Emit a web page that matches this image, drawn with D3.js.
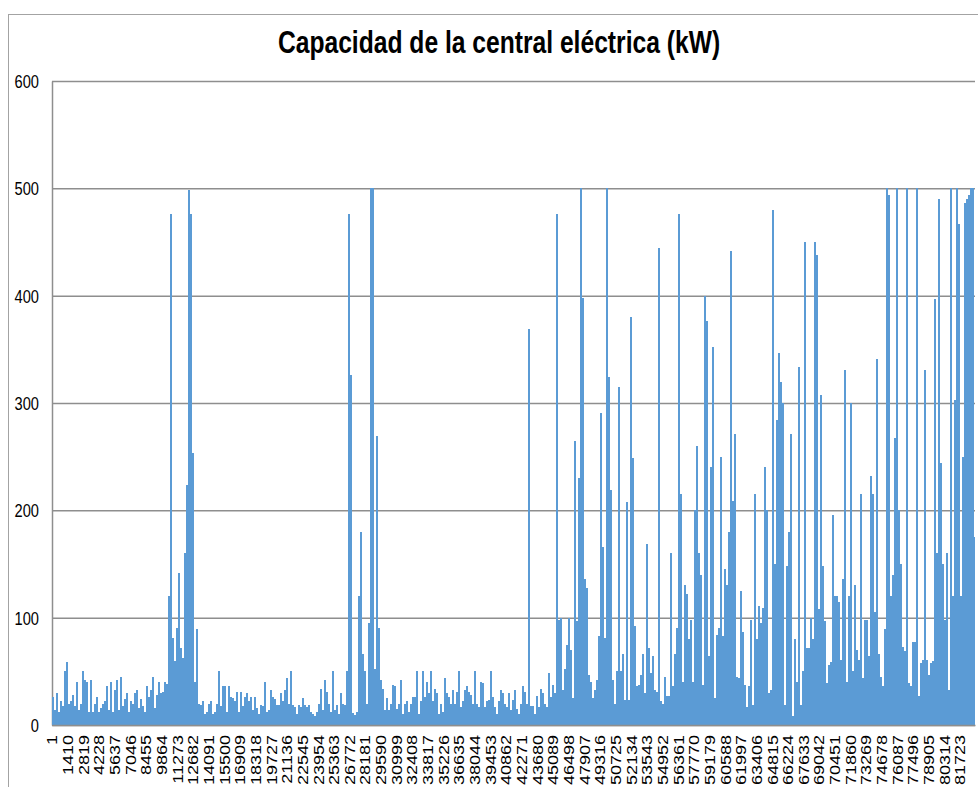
<!DOCTYPE html>
<html>
<head>
<meta charset="utf-8">
<script src="https://cdn.jsdelivr.net/npm/d3@7/dist/d3.min.js"></script>
<style>
  html, body { margin: 0; padding: 0; background: #ffffff; }
  svg { display: block; }
  text { font-family: "Liberation Sans", Arial, Helvetica, sans-serif; fill: #000; }
</style>
</head>
<body>
<svg id="chart" width="978" height="787"></svg>
<script>
// ---- data -------------------------------------------------------------
const chartTitle = "Capacidad de la central eléctrica (kW)";

// number of records on the category axis and records per drawn block
const pointCount = 83070;
const binSize = 180;

// peak capacity (kW) within each block of 180 consecutive records
const binPeaks = [
  26, 14, 30, 12, 22, 18, 50, 59, 20, 22,
  28, 18, 40, 14, 20, 50, 42, 40, 12, 42,
  12, 20, 26, 12, 16, 20, 22, 36, 14, 40,
  12, 33, 42, 14, 45, 18, 24, 30, 12, 22,
  20, 30, 33, 16, 24, 18, 12, 36, 26, 33,
  45, 16, 28, 40, 30, 31, 40, 38, 120, 476,
  81, 60, 90, 142, 72, 62, 160, 224, 498, 476,
  253, 40, 89, 20, 19, 22, 10, 12, 20, 22,
  10, 12, 20, 50, 18, 36, 36, 12, 36, 26,
  25, 22, 31, 12, 31, 18, 26, 30, 22, 26,
  14, 26, 16, 10, 19, 18, 40, 12, 14, 33,
  26, 24, 19, 19, 30, 22, 33, 44, 20, 50,
  19, 17, 10, 19, 17, 25, 19, 17, 19, 12,
  10, 8, 12, 20, 34, 14, 42, 31, 20, 12,
  50, 14, 19, 10, 30, 20, 19, 50, 476, 326,
  11, 9, 12, 120, 180, 66, 50, 20, 95, 500,
  500, 52, 269, 90, 42, 34, 14, 25, 14, 20,
  37, 36, 15, 20, 42, 10, 20, 22, 12, 20,
  26, 26, 50, 10, 22, 50, 26, 40, 30, 50,
  22, 34, 30, 10, 20, 12, 44, 30, 26, 20,
  33, 20, 31, 50, 17, 22, 33, 36, 31, 28,
  20, 50, 20, 17, 40, 39, 17, 22, 23, 50,
  26, 17, 10, 22, 33, 30, 20, 17, 30, 14,
  23, 33, 15, 10, 20, 36, 31, 20, 369, 18,
  18, 10, 27, 17, 34, 30, 20, 17, 48, 26,
  37, 30, 476, 98, 100, 33, 52, 75, 100, 70,
  25, 265, 97, 230, 500, 398, 136, 128, 47, 40,
  25, 33, 42, 83, 291, 166, 81, 500, 324, 219,
  42, 20, 50, 315, 50, 66, 23, 208, 23, 380,
  249, 92, 36, 37, 47, 66, 30, 169, 72, 48,
  64, 33, 31, 444, 22, 20, 45, 27, 27, 160,
  36, 66, 90, 476, 215, 40, 130, 122, 80, 98,
  40, 200, 260, 160, 140, 37, 400, 376, 64, 240,
  352, 25, 84, 90, 250, 83, 145, 130, 180, 442,
  209, 271, 45, 44, 125, 87, 37, 17, 36, 98,
  19, 215, 80, 111, 95, 109, 240, 200, 30, 33,
  480, 150, 284, 347, 320, 300, 19, 148, 180, 271,
  8, 80, 40, 334, 19, 50, 450, 72, 72, 100,
  80, 450, 438, 108, 307, 148, 97, 39, 56, 59,
  196, 120, 120, 115, 61, 136, 331, 40, 120, 300,
  50, 130, 70, 61, 215, 44, 98, 98, 64, 232,
  215, 105, 341, 66, 45, 36, 89, 500, 494, 120,
  140, 267, 500, 200, 150, 73, 69, 500, 39, 36,
  77, 77, 500, 27, 58, 61, 331, 61, 47, 58,
  60, 397, 160, 490, 244, 150, 98, 160, 33, 500,
  120, 303, 500, 467, 120, 250, 486, 490, 494, 500,
  500, 175
];

const yTickValues = [0, 100, 200, 300, 400, 500, 600];

const xTickLabels = [
  1, 1410, 2819, 4228, 5637, 7046, 8455, 9864, 11273, 12682,
  14091, 15500, 16909, 18318, 19727, 21136, 22545, 23954, 25363, 26772,
  28181, 29590, 30999, 32408, 33817, 35226, 36635, 38044, 39453, 40862,
  42271, 43680, 45089, 46498, 47907, 49316, 50725, 52134, 53543, 54952,
  56361, 57770, 59179, 60588, 61997, 63406, 64815, 66224, 67633, 69042,
  70451, 71860, 73269, 74678, 76087, 77496, 78905, 80314, 81723
];

// ---- layout -----------------------------------------------------------
const plot = { left: 52, right: 975, top: 81, bottom: 725 };
const squeeze = 0.77;           // horizontal condensing of all lettering
const gridColor = "#8e8e8e";
const barColor = "#5b9bd5";

const svg = d3.select("#chart");

// outer chart frame
svg.append("rect")
  .attr("x", 8.5).attr("y", 14.5)
  .attr("width", 1000).attr("height", 800)
  .attr("fill", "none")
  .attr("stroke", "#a3a3a3")
  .attr("stroke-width", 1);

// title
svg.append("text")
  .attr("transform", `translate(499,53) scale(${squeeze},1)`)
  .attr("text-anchor", "middle")
  .style("font-size", "32px")
  .style("font-weight", "bold")
  .text(chartTitle);

// scales
const x = d3.scaleLinear()
  .domain([0.5, pointCount + 0.5])
  .range([plot.left, plot.right]);

const y = d3.scaleLinear()
  .domain([0, 600])
  .range([plot.bottom, plot.top]);

// horizontal gridlines + value labels
const yAxis = d3.axisLeft(y)
  .tickValues(yTickValues)
  .tickSize(-(plot.right - plot.left))
  .tickSizeOuter(0)
  .tickFormat(d3.format("d"));

const gy = svg.append("g")
  .attr("transform", `translate(${plot.left},0)`)
  .call(yAxis);

gy.select(".domain").attr("stroke", gridColor).attr("stroke-width", 1.5);
gy.selectAll(".tick line").attr("stroke", gridColor).attr("stroke-width", 1.5);
gy.selectAll(".tick text")
  .attr("x", null)
  .attr("dy", "0.35em")
  .attr("transform", `translate(-13,0) scale(${squeeze},1)`)
  .style("text-anchor", "end")
  .style("font-size", "19px")
  .style("font-family", "\"Liberation Sans\", Arial, sans-serif")
  .attr("fill", "#000");

// capacity blocks
const blocks = binPeaks.map((v, k) => {
  const first = k * binSize + 1;
  const last = Math.min((k + 1) * binSize, pointCount);
  return { first, last, value: v };
});

svg.append("g")
  .attr("shape-rendering", "crispEdges")
  .selectAll("rect")
  .data(blocks)
  .join("rect")
  .attr("x", d => x(d.first - 0.5))
  .attr("width", d => x(d.last + 0.5) - x(d.first - 0.5))
  .attr("y", d => y(d.value))
  .attr("height", d => y(0) - y(d.value))
  .attr("fill", barColor);

// category axis
const xAxis = d3.axisBottom(x)
  .tickValues(xTickLabels)
  .tickSize(0)
  .tickSizeOuter(0)
  .tickFormat(d3.format("d"));

const gx = svg.append("g")
  .attr("transform", `translate(0,${plot.bottom})`)
  .call(xAxis);

gx.select(".domain").attr("stroke", gridColor).attr("stroke-width", 1.5);
gx.selectAll(".tick text")
  .attr("y", null)
  .attr("dy", "0.35em")
  .attr("transform", `translate(0,10) rotate(-90) scale(1,${squeeze})`)
  .style("text-anchor", "end")
  .style("font-size", "18px")
  .style("font-family", "\"Liberation Sans\", Arial, sans-serif")
  .attr("fill", "#000");
</script>
</body>
</html>
